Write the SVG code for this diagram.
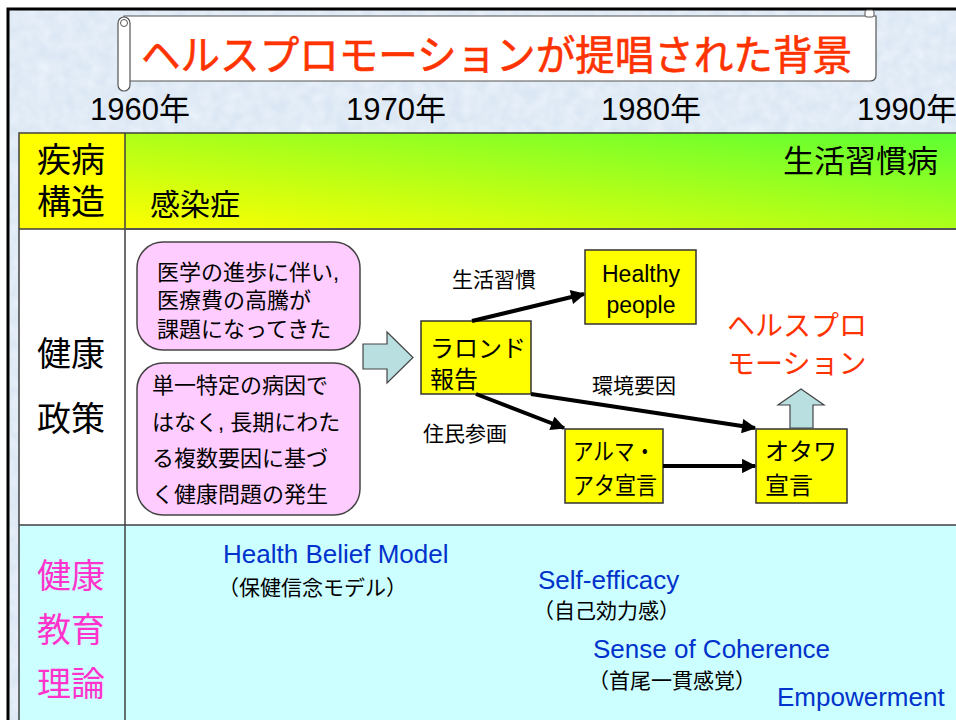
<svg xmlns="http://www.w3.org/2000/svg" width="956" height="720" viewBox="0 0 956 720">
<defs>
<linearGradient id="g1" x1="0" y1="1" x2="1" y2="0">
<stop offset="0" stop-color="#ffff00"/>
<stop offset="1" stop-color="#5cff33"/>
</linearGradient>
<filter id="tex" x="0" y="0" width="100%" height="100%">
<feTurbulence type="fractalNoise" baseFrequency="0.08" numOctaves="2" seed="3" result="n"/>
<feColorMatrix in="n" type="matrix" values="0 0 0 0 0.86  0 0 0 0 0.91  0 0 0 0 0.97  0 0 0 -1.2 0.9" result="c"/>
<feComposite in="c" in2="SourceGraphic" operator="in"/>
</filter>
<marker id="ah" viewBox="0 0 10 10" refX="9" refY="5" markerWidth="4" markerHeight="3.6" orient="auto" markerUnits="strokeWidth">
<path d="M0,0 L10,5 L0,10 z" fill="#000"/>
</marker>
<style>
text{font-family:"Liberation Sans","Noto Sans CJK JP",sans-serif;}
.hdr{font-size:34px;fill:#000;}
.yr{font-size:31px;fill:#000;}
.ybox{fill:#ffff00;stroke:#333;stroke-width:1.5;}
.pbox{fill:#ffccff;stroke:#444;stroke-width:1.5;}
.blk{fill:#b9dfe1;stroke:#444;stroke-width:1.2;}
.conn{stroke:#000;stroke-width:4;fill:none;marker-end:url(#ah);}
.lbl{font-size:21px;fill:#000;}
.bt{font-size:24px;fill:#000;}
.pt{font-size:22px;fill:#000;}
.en{font-size:26px;fill:#0033cc;}
.jp{font-size:21px;fill:#000;}
.grid{stroke:#404040;stroke-width:1.5;fill:none;}
</style>
</defs>

<!-- background -->
<rect x="0" y="0" width="956" height="720" fill="#ffffff"/>
<rect x="9" y="9" width="947" height="711" fill="#dbe7f4"/>
<rect x="9" y="9" width="947" height="711" fill="#dbe7f4" filter="url(#tex)"/>
<path d="M8,720 L8,9 L956,9" fill="none" stroke="#000" stroke-width="3"/>

<!-- title scroll -->
<g id="title">
<path d="M124,16 L876,16 L876,75 Q876,81 870,81 L124,81 Z" fill="#fff" stroke="#555" stroke-width="1.2"/>
<rect x="865" y="10" width="9" height="7" rx="2" fill="#fff" stroke="#555" stroke-width="1"/>
<rect x="118" y="17" width="12" height="74" rx="6" fill="#fff" stroke="#555" stroke-width="1.2"/>
<circle cx="124" cy="23" r="3.5" fill="#fff" stroke="#555" stroke-width="1"/>
<text x="141" y="70" font-size="41" fill="#ff3300" stroke="#ff3300" stroke-width="0.6" textLength="711" lengthAdjust="spacingAndGlyphs">ヘルスプロモーションが提唱された背景</text>
</g>

<!-- years -->
<g id="years">
<text class="yr" x="90" y="120">1960年</text>
<text class="yr" x="346" y="120">1970年</text>
<text class="yr" x="601" y="120">1980年</text>
<text class="yr" x="857" y="120">1990年</text>
</g>

<!-- table -->
<g id="table">
<rect x="19" y="133" width="106" height="96" fill="#ffff00"/>
<rect x="125" y="133" width="831" height="96" fill="url(#g1)"/>
<rect x="19" y="229" width="937" height="296" fill="#ffffff"/>
<rect x="19" y="525" width="937" height="195" fill="#ccffff"/>
<path class="grid" d="M19,720 L19,133 L956,133 M19,229 L956,229 M19,525 L956,525 M125,133 L125,720"/>
<path d="M125,229 L956,229" stroke="#555" stroke-width="2"/>
</g>

<!-- row 1 -->
<g id="row1">
<text class="hdr" x="37" y="172">疾病</text>
<text class="hdr" x="37" y="214">構造</text>
<text x="150" y="215" font-size="30" fill="#000">感染症</text>
<text x="783" y="172" font-size="31" fill="#000">生活習慣病</text>
</g>

<!-- row 2 -->
<g id="row2">
<text class="hdr" x="37" y="366">健康</text>
<text class="hdr" x="37" y="431">政策</text>
</g>

<g id="note1">
<rect class="pbox" x="137" y="242" width="223" height="108" rx="26"/>
<text class="pt" x="157" y="280">医学の進歩に伴い,</text>
<text class="pt" x="157" y="308">医療費の高騰が</text>
<text class="pt" x="157" y="337">課題になってきた</text>
</g>

<g id="note2">
<rect class="pbox" x="137" y="363" width="223" height="152" rx="26"/>
<text class="pt" x="152" y="393" font-size="23">単一特定の病因で</text>
<text class="pt" x="152" y="430" font-size="23">はなく, 長期にわた</text>
<text class="pt" x="152" y="466" font-size="23">る複数要因に基づ</text>
<text class="pt" x="152" y="502" font-size="23">く健康問題の発生</text>
</g>

<g id="bigarrow">
<path class="blk" d="M363,344 L387,344 L387,332 L413,357.5 L387,383 L387,369 L363,369 Z"/>
</g>

<g id="lalonde">
<rect class="ybox" x="421" y="321" width="110" height="73"/>
<text class="bt" x="430" y="357">ラロンド</text>
<text class="bt" x="430" y="388">報告</text>
</g>

<g id="healthy">
<rect class="ybox" x="585" y="250" width="111" height="74"/>
<text x="641" y="282" font-size="23" text-anchor="middle" fill="#000">Healthy</text>
<text x="641" y="313" font-size="23" text-anchor="middle" fill="#000">people</text>
</g>

<g id="almaata">
<rect class="ybox" x="565" y="429" width="98" height="74"/>
<text class="bt" x="573" y="460" textLength="82" lengthAdjust="spacingAndGlyphs">アルマ・</text>
<text class="bt" x="573" y="494" textLength="84" lengthAdjust="spacingAndGlyphs">アタ宣言</text>
</g>

<g id="ottawa">
<rect class="ybox" x="756" y="429" width="91" height="74"/>
<text class="bt" x="765" y="460">オタワ</text>
<text class="bt" x="765" y="494">宣言</text>
</g>

<g id="hp">
<text x="727" y="336" font-size="28" fill="#ff3300">ヘルスプロ</text>
<text x="727" y="374" font-size="28" fill="#ff3300">モーション</text>
</g>

<g id="uparrow">
<path class="blk" d="M790,428 L790,405 L778,405 L801,389 L824,405 L813,405 L813,428 Z"/>
</g>

<g id="connectors">
<path class="conn" d="M472,321 L584,294"/>
<path class="conn" d="M531,394 L755,428"/>
<path class="conn" d="M476,394 L564,428"/>
<path class="conn" d="M663,466 L755,466"/>
</g>

<g id="connector-labels">
<text class="lbl" x="452" y="287">生活習慣</text>
<text class="lbl" x="592" y="393">環境要因</text>
<text class="lbl" x="423" y="441">住民参画</text>
</g>

<!-- row 3 -->
<g id="row3">
<text class="hdr" x="37" y="588" style="fill:#ff33cc">健康</text>
<text class="hdr" x="37" y="642" style="fill:#ff33cc">教育</text>
<text class="hdr" x="37" y="696" style="fill:#ff33cc">理論</text>
</g>

<g id="hbm">
<text class="en" x="223" y="563">Health Belief Model</text>
<text class="jp" x="218" y="595">（保健信念モデル）</text>
</g>
<g id="selfefficacy">
<text class="en" x="538" y="589">Self-efficacy</text>
<text class="jp" x="533" y="618">（自己効力感）</text>
</g>
<g id="soc">
<text class="en" x="593" y="658">Sense of Coherence</text>
<text class="jp" x="588" y="688">（首尾一貫感覚）</text>
</g>
<g id="empowerment">
<text class="en" x="777" y="706">Empowerment</text>
</g>
</svg>
